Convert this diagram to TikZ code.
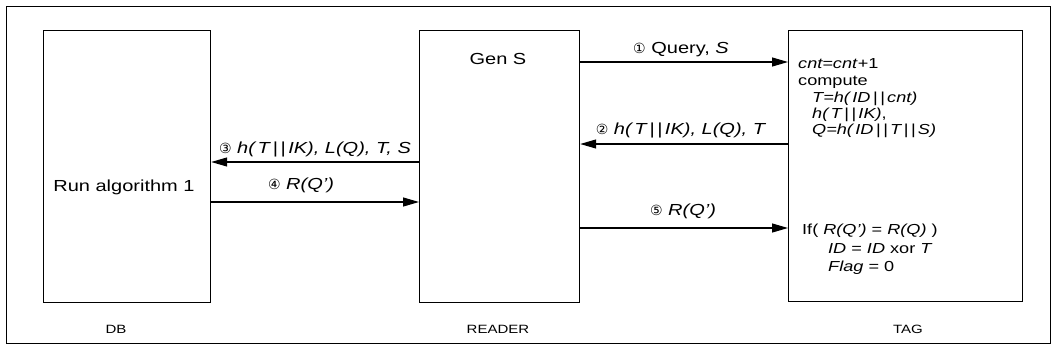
\documentclass[tikz,border=0pt]{standalone}
\usepackage{fontspec}
\setmainfont{Liberation Sans}[FakeStretch=1.25]
\newfontfamily\numfont{DejaVu Sans}
\usetikzlibrary{arrows.meta}
\newcommand\cn[1]{{\numfont\fontsize{14}{15}\selectfont #1}}
\newcommand\bars{\,|\,|\,}
\begin{document}
\begin{tikzpicture}[x=1pt,y=-1pt,
  box/.style={draw, line width=1.2pt, inner sep=0pt},
  arr/.style={line width=1.2pt, -{Triangle[length=16pt,width=9pt]}},
  txt/.style={inner sep=0pt, anchor=base, font=\fontsize{16}{17}\selectfont},
  msg/.style={inner sep=0pt, anchor=base, font=\fontsize{16}{17}\selectfont},
  captext/.style={inner sep=0pt, anchor=base, font=\fontsize{12}{13}\selectfont},
  tl/.style={inner sep=0pt, anchor=base west, font=\fontsize{14.5}{15}\selectfont}]
\useasboundingbox (0,0) rectangle (1053,351);
\node[box, minimum width=1044pt, minimum height=337pt, anchor=north west] (frame) at (6,6) {};
\node[box, minimum width=167pt, minimum height=272pt, anchor=north west] (db) at (43,30) {};
\node[box, minimum width=160pt, minimum height=272pt, anchor=north west] (reader) at (419,30) {};
\node[box, minimum width=234pt, minimum height=271pt, anchor=north west] (tag) at (788,30) {};

\node[txt] (gens) at (498,64) {Gen S};
\node[txt] (run) at (124,191) {Run algorithm 1};

\node[captext] (dbl) at (116,333) {DB};
\node[captext] (readerl) at (498,333) {READER};
\node[captext] (tagl) at (908,333) {TAG};

\draw[arr] (reader.east |- 0,62) -- (tag.west |- 0,62);
\node[msg] (m1) at (681,53) {\cn{①} Query, \textit{S}};
\draw[arr] (tag.west |- 0,144) -- (reader.east |- 0,144);
\node[msg] (m2) at (681,134) {\cn{②} \textit{h(\,T\bars IK), L(Q), T}};
\draw[arr] (reader.west |- 0,162) -- (db.east |- 0,162);
\node[msg] (m3) at (315,153) {\cn{③} \textit{h(\,T\bars IK), L(Q), T, S}};
\draw[arr] (db.east |- 0,202) -- (reader.west |- 0,202);
\node[msg] (m4) at (301,189) {\cn{④} \textit{R(Q')}};
\draw[arr] (reader.east |- 0,228) -- (tag.west |- 0,228);
\node[msg] (m5) at (683,215) {\cn{⑤} \textit{R(Q')}};

\node[tl] (t1) at (798,68) {\textit{cnt=cnt}+1};
\node[tl] (t2) at (798,85) {compute};
\node[tl] (t3) at (812,102) {\textit{T=h(\,ID\bars cnt)}};
\node[tl] (t4) at (812,118) {\textit{h(\,T\bars IK)},};
\node[tl] (t5) at (812,134) {\textit{Q=h(\,ID\bars T\bars S)}};
\node[tl] (t6) at (802,234) {If( \textit{R(Q')} = \textit{R(Q)} )};
\node[tl] (t7) at (828,253) {\textit{ID} = \textit{ID} xor \textit{T}};
\node[tl] (t8) at (828,271) {\textit{Flag} = 0};
\end{tikzpicture}
\end{document}
